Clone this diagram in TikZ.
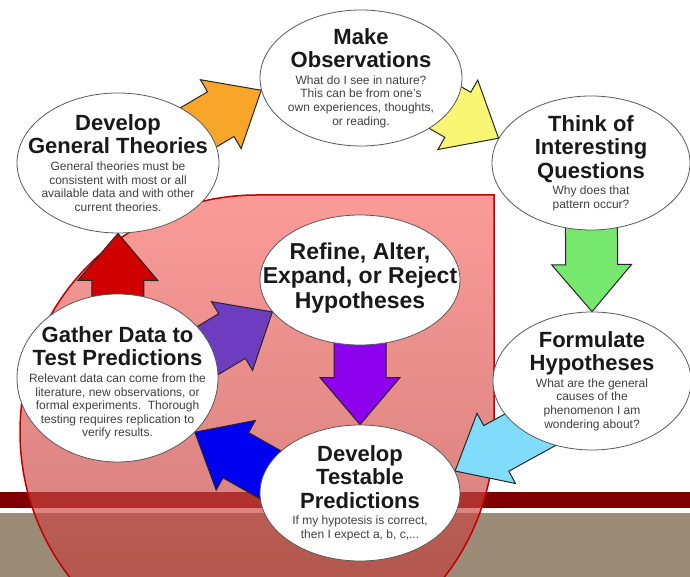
\documentclass[tikz,border=0pt]{standalone}
\usepackage{fontspec}
\setmainfont{Liberation Sans}
\usepackage{tikz}
\usetikzlibrary{shapes.geometric}
\usetikzlibrary{calc,backgrounds}
\usetikzlibrary{positioning}
\usepackage{xcolor}

\definecolor{footerred}{RGB}{128,0,0}
\definecolor{footertaupe}{RGB}{156,139,119}
\definecolor{loopred}{RGB}{192,0,0}
\definecolor{looptop}{RGB}{248,106,101}
\definecolor{loopbottom}{RGB}{178,53,50}
\definecolor{arroworange}{RGB}{247,166,41}
\definecolor{arrowyellow}{RGB}{248,246,114}
\definecolor{arrowgreen}{RGB}{118,232,110}
\definecolor{arrowsky}{RGB}{128,220,250}
\definecolor{arrowblue}{RGB}{0,0,240}
\definecolor{arrowred}{RGB}{208,0,0}
\definecolor{arrowpurple}{RGB}{110,60,190}
\definecolor{arrowviolet}{RGB}{140,0,238}

\tikzstyle{stage}=[
  draw=black!65,ellipse,line width=0.8pt,fill=white,inner sep=0pt
]
\tikzstyle{stagetext}=[
  text width=200pt,align=center,inner sep=0pt
]
\tikzstyle{blockarrow}=[
  draw=black!85,line width=1pt,line join=miter
]
\tikzstyle{loopback}=[
  draw=loopred,line width=1.5pt,top color=looptop,bottom color=loopbottom,fill opacity=0.67
]

\newcommand{\stagetitle}[1]{{\fontsize{22}{23.5}\selectfont\bfseries\spaceskip=.28em\relax\color{black!90}#1\par}}
\newcommand{\bigstagetitle}[1]{{\fontsize{23}{24.5}\selectfont\bfseries\spaceskip=.28em\relax\color{black!90}#1\par}}
\newcommand{\stagebody}[1]{\vskip3pt{\fontsize{12}{13.6}\selectfont\spaceskip=.28em\relax\color{black!75}#1\par}}
% block arrow from #1 to #2, filled with #3
\newcommand{\stagearrow}[3]{%
  \coordinate (head) at ($(#2)!47pt!(#1)$);
  \filldraw[blockarrow,fill=#3]
    ($(#1)!26pt!90:(#2)$) -- ($(head)!26pt!-90:(#1)$) -- ($(head)!40pt!-90:(#1)$) -- (#2)
    -- ($(head)!40pt!90:(#1)$) -- ($(head)!26pt!90:(#1)$) -- ($(#1)!26pt!-90:(#2)$) -- cycle;
}

\begin{document}
\begin{tikzpicture}[x=1pt,y=1pt]
  \useasboundingbox (0,0) rectangle (690,577);

  % the seven stages
  \node (obs) at (361,499) [stage,minimum width=202pt,minimum height=136pt] {};
  \node (theo) at (118,414) [stage,minimum width=202pt,minimum height=140pt] {};
  \node (ques) at (591,414) [stage,minimum width=198pt,minimum height=134pt] {};
  \node (hyp) at (592,196) [stage,minimum width=198pt,minimum height=138pt] {};
  \node (pred) at (360,84) [stage,minimum width=200pt,minimum height=136pt] {};
  \node (data) at (117.5,199) [stage,minimum width=201pt,minimum height=168pt] {};
  \node (ref) at (360,297) [stage,minimum width=200pt,minimum height=130pt] {};

  \node (obs-text) at (obs) [stagetext] {\stagetitle{Make\\Observations}%
    \stagebody{What do I see in nature?\\This can be from one's\\own experiences, thoughts,\\or reading.}};
  \node (theo-text) at (theo) [stagetext] {\stagetitle{Develop\\General Theories}%
    \stagebody{General theories must be\\consistent with most or all\\available data and with other\\current theories.}};
  \node (ques-text) at (ques) [stagetext] {\stagetitle{Think of\\Interesting\\Questions}%
    \stagebody{Why does that\\pattern occur?}};
  \node (hyp-text) at (hyp) [stagetext] {\stagetitle{Formulate\\Hypotheses}%
    \stagebody{What are the general\\causes of the\\phenomenon I am\\wondering about?}};
  \node (pred-text) at (pred) [stagetext] {\stagetitle{Develop\\Testable\\Predictions}%
    \stagebody{If my hypotesis is correct,\\then I expect a, b, c,...}};
  \node (data-text) at ($(data)+(0,-5)$) [stagetext] {\stagetitle{Gather Data to\\Test Predictions}%
    \stagebody{Relevant data can come from the\\literature, new observations, or\\formal experiments.\ \ Thorough\\testing requires replication to\\verify results.}};
  \node (ref-text) at ($(ref)+(0,2)$) [stagetext] {\bigstagetitle{Refine, Alter,\\Expand, or Reject\\Hypotheses}};

  % where the arrow shafts start, hidden behind the stages
  \coordinate (theo-out) at ($(theo)+(32,7)$);
  \coordinate (obs-out) at ($(obs)+(17,9)$);
  \coordinate (hyp-out) at ($(hyp)+(-4,-17)$);
  \coordinate (pred-out) at ($(pred)+(-36,-12)$);
  \coordinate (data-out) at ($(data)+(26,-11)$);

  \begin{scope}[on background layer]
    \clip (0,0) rectangle (690,577);
    % footer bands
    \fill[footerred] (0,69) rectangle (690,85);
    \fill[footertaupe] (0,0) rectangle (690,64);
    % testing loop
    \shadedraw[loopback] (257,382) -- (494,382) -- (494,145)
      arc[start angle=0,end angle=-270,radius=237] -- cycle;
    \stagearrow{theo-out}{obs.187}{arroworange}
    \stagearrow{obs-out}{ques.165}{arrowyellow}
    \stagearrow{ques}{hyp.north}{arrowgreen}
    \stagearrow{hyp-out}{pred.13}{arrowsky}
    \stagearrow{pred-out}{data.325}{arrowblue}
    \stagearrow{data}{theo.south}{arrowred}
    \stagearrow{data-out}{ref.200}{arrowpurple}
    \stagearrow{ref}{pred.north}{arrowviolet}
  \end{scope}
\end{tikzpicture}
\end{document}
